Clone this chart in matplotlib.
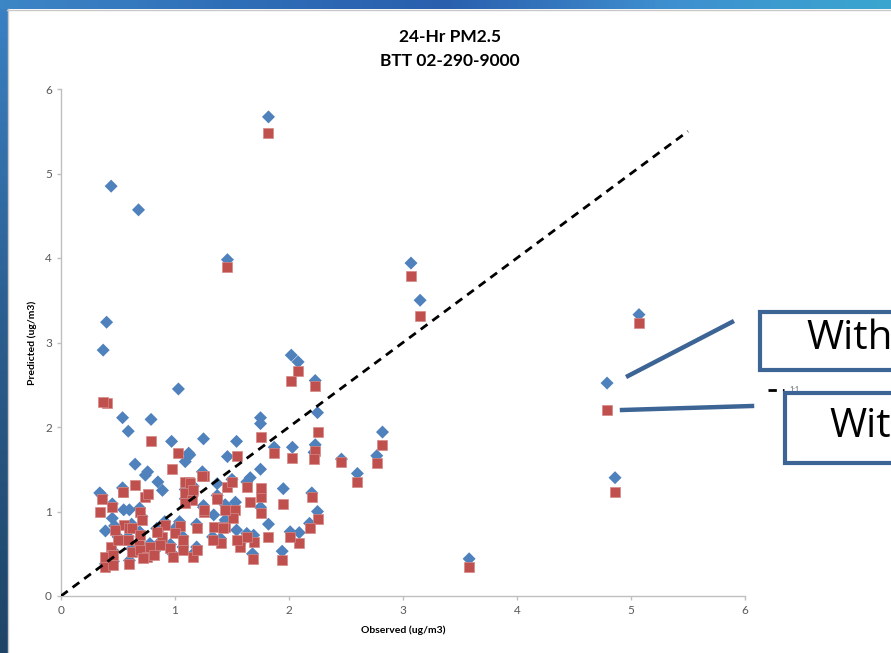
import matplotlib
matplotlib.use("Agg")
import matplotlib.pyplot as plt
from matplotlib.lines import Line2D
from matplotlib.patches import Rectangle
import numpy as np

plt.rcParams['font.family'] = ['Lato', 'DejaVu Sans']

# observed value, predicted (blue diamonds), predicted (red squares)
observed = [1.82, 1.46, 3.07, 3.15, 5.07, 4.79, 4.86, 3.58, 0.44, 0.68,
            0.40, 0.37, 1.03, 0.54, 0.79, 0.59, 0.97, 2.02, 2.08, 2.23,
            1.75, 1.75, 1.25, 1.54, 1.87, 2.03, 1.46, 1.12, 2.25, 2.82,
            2.77, 2.46, 2.60, 2.23, 2.22, 1.75, 1.95, 2.20, 2.25, 2.18,
            2.09, 2.01, 1.94, 1.82, 1.68, 1.69, 1.57, 1.54, 1.40, 1.44,
            1.34, 1.25, 1.75, 1.53, 1.51, 1.66, 1.63, 1.37, 1.50, 1.44,
            0.65, 1.09, 1.13, 0.74, 0.76, 0.85, 0.89, 0.34, 0.55, 0.60,
            0.45, 0.39, 1.24, 1.09, 1.16, 0.54, 0.36, 1.15, 1.25, 1.09,
            1.37, 0.45, 0.69, 0.71, 0.91, 1.04, 1.19, 0.47, 0.62, 0.69,
            0.50, 0.59, 0.84, 1.00, 1.07, 0.78, 0.87, 0.96, 0.62, 0.69,
            0.75, 0.82, 0.98, 1.07, 0.46, 0.39, 0.46, 0.60, 0.72, 1.16,
            1.19, 1.33, 1.42, 1.63]
pred_blue = [5.67, 3.98, 3.94, 3.50, 3.33, 2.52, 1.40, 0.44, 4.85, 4.57,
             3.24, 2.91, 2.45, 2.11, 2.09, 1.95, 1.83, 2.85, 2.77, 2.55,
             2.11, 2.04, 1.86, 1.83, 1.76, 1.76, 1.65, 1.69, 2.17, 1.94,
             1.66, 1.62, 1.45, 1.79, 1.70, 1.50, 1.27, 1.22, 1.00, 0.86,
             0.75, 0.76, 0.53, 0.85, 0.50, 0.72, 0.62, 0.78, 0.68, 0.90,
             0.96, 1.05, 1.05, 1.11, 1.00, 1.40, 1.35, 1.33, 1.38, 1.08,
             1.56, 1.59, 1.67, 1.43, 1.47, 1.35, 1.25, 1.22, 1.02, 1.02,
             0.92, 0.77, 1.47, 1.26, 1.30, 1.28, 1.19, 1.18, 1.07, 1.15,
             1.19, 1.09, 1.04, 0.94, 0.88, 0.88, 0.85, 0.83, 0.85, 0.76,
             0.70, 0.70, 0.80, 0.80, 0.70, 0.62, 0.64, 0.61, 0.56, 0.58,
             0.50, 0.53, 0.50, 0.58, 0.53, 0.38, 0.41, 0.42, 0.49, 0.50,
             0.58, 0.70, 0.84, 0.74]
pred_red = [5.48, 3.89, 3.79, 3.31, 3.23, 2.20, 1.23, 0.34, 0.58, 0.60,
            2.28, 2.30, 1.69, 1.23, 1.83, 0.66, 1.50, 2.55, 2.66, 2.48,
            1.88, 1.17, 1.42, 1.66, 1.69, 1.63, 1.29, 1.35, 1.94, 1.79,
            1.57, 1.59, 1.35, 1.72, 1.62, 1.28, 1.09, 1.17, 0.91, 0.80,
            0.63, 0.70, 0.43, 0.70, 0.44, 0.64, 0.58, 0.66, 0.63, 0.82,
            0.82, 0.99, 0.98, 1.02, 0.92, 1.11, 1.29, 1.16, 1.35, 1.02,
            1.31, 1.35, 1.34, 1.17, 1.21, 0.76, 0.70, 0.99, 0.84, 0.80,
            0.49, 0.46, 1.42, 1.22, 1.25, 1.23, 1.15, 1.14, 1.02, 1.10,
            1.15, 1.05, 1.00, 0.90, 0.84, 0.83, 0.80, 0.78, 0.80, 0.72,
            0.66, 0.66, 0.76, 0.75, 0.66, 0.58, 0.60, 0.57, 0.52, 0.54,
            0.46, 0.49, 0.46, 0.54, 0.49, 0.34, 0.37, 0.38, 0.45, 0.46,
            0.54, 0.66, 0.80, 0.70]
one_to_one = [0, 5.5]
ticks = [0, 1, 2, 3, 4, 5, 6]

W, H = 891, 653
fig = plt.figure(figsize=(W / 100, H / 100), dpi=100)
fig.patch.set_facecolor('white')

# slide frame (blue bands top and left)
top = fig.add_axes([0, 1 - 9 / H, 1, 9 / H])
top.imshow(np.linspace(0, 1, 200)[None, :], aspect='auto',
           cmap=matplotlib.colors.LinearSegmentedColormap.from_list(
               'tb', ['#3d86c6', '#2f6fb8', '#2a5fae', '#3f8fcf', '#3aa6d0']))
top.axis('off')
left = fig.add_axes([0, 0, 7 / W, 1 - 9 / H])
left.imshow(np.linspace(0, 1, 200)[:, None], aspect='auto',
            cmap=matplotlib.colors.LinearSegmentedColormap.from_list(
                'lb', ['#3a80c2', '#2b5d8e', '#1f4466']))
left.axis('off')
fig.lines.append(Line2D([7.5 / W, 7.5 / W], [0, 1 - 9 / H], transform=fig.transFigure,
                        color='#c8c8c8', lw=1))
fig.lines.append(Line2D([7 / W, 1], [1 - 9.5 / H, 1 - 9.5 / H], transform=fig.transFigure,
                        color='#c8c8c8', lw=1))

ax = fig.add_axes([61 / W, 1 - 596 / H, (745 - 61) / W, (596 - 89) / H])
ax.set_xlim(0, 6)
ax.set_ylim(0, 6)
ax.set_xticks(ticks)
ax.set_yticks(ticks)
for s in ['top', 'right']:
    ax.spines[s].set_visible(False)
for s in ['left', 'bottom']:
    ax.spines[s].set_color('#bfbfbf')
    ax.spines[s].set_linewidth(1)
ax.tick_params(colors='#bfbfbf', labelcolor='#595959', labelsize=8.5, length=3, width=1)

ax.scatter(observed, pred_blue, marker='D', s=44, color='#4f81bd', edgecolors='none',
           zorder=3, clip_on=False)
ax.scatter(observed, pred_red, marker='s', s=62, color='#c0504d', edgecolors='#d48a88',
           linewidths=0.5, zorder=4, clip_on=False)
dline, = ax.plot(one_to_one, one_to_one, color='black', lw=2, dashes=(3, 2.2), zorder=5)

ax.set_xlabel('Observed (ug/m3)', fontsize=7.5, fontweight='bold', labelpad=7)
ax.set_ylabel('Predicted (ug/m3)', fontsize=7.5, fontweight='bold', labelpad=6)

ax.legend(handles=[dline], labels=['1:1'], loc='center left', frameon=False,
          bbox_to_anchor=(765 / W, 1 - 390 / H), bbox_transform=fig.transFigure,
          fontsize=5, handlelength=2.2, handletextpad=0.8, borderpad=0, labelcolor='#595959')

fig.text(450 / W, 1 - 37 / H, '24-Hr PM2.5', ha='center', va='center',
         fontsize=12.5, fontweight='bold')
fig.text(450 / W, 1 - 61 / H, 'BTT 02-290-9000', ha='center', va='center',
         fontsize=12.5, fontweight='bold')

# callouts
box_col = '#3c6494'
fig.lines.append(Line2D([628 / W, 732 / W], [1 - 376 / H, 1 - 322 / H],
                        transform=fig.transFigure, color=box_col, lw=3.2))
fig.lines.append(Line2D([622 / W, 752 / W], [1 - 410 / H, 1 - 406 / H],
                        transform=fig.transFigure, color=box_col, lw=3.2))
fig.patches.append(Rectangle((760 / W, 1 - 370 / H), 0.5, 58 / H, transform=fig.transFigure,
                             facecolor='white', edgecolor=box_col, lw=3, zorder=6))
fig.patches.append(Rectangle((785 / W, 1 - 463 / H), 0.5, 70 / H, transform=fig.transFigure,
                             facecolor='white', edgecolor=box_col, lw=3, zorder=6))
fig.text(806 / W, 1 - 339 / H, 'With', ha='left', va='center', fontsize=29, zorder=7,
         family=['Open Sans', 'DejaVu Sans'])
fig.text(829 / W, 1 - 427 / H, 'Without', ha='left', va='center', fontsize=29, zorder=7,
         family=['Open Sans', 'DejaVu Sans'])

fig.savefig('out.png', dpi=100)
